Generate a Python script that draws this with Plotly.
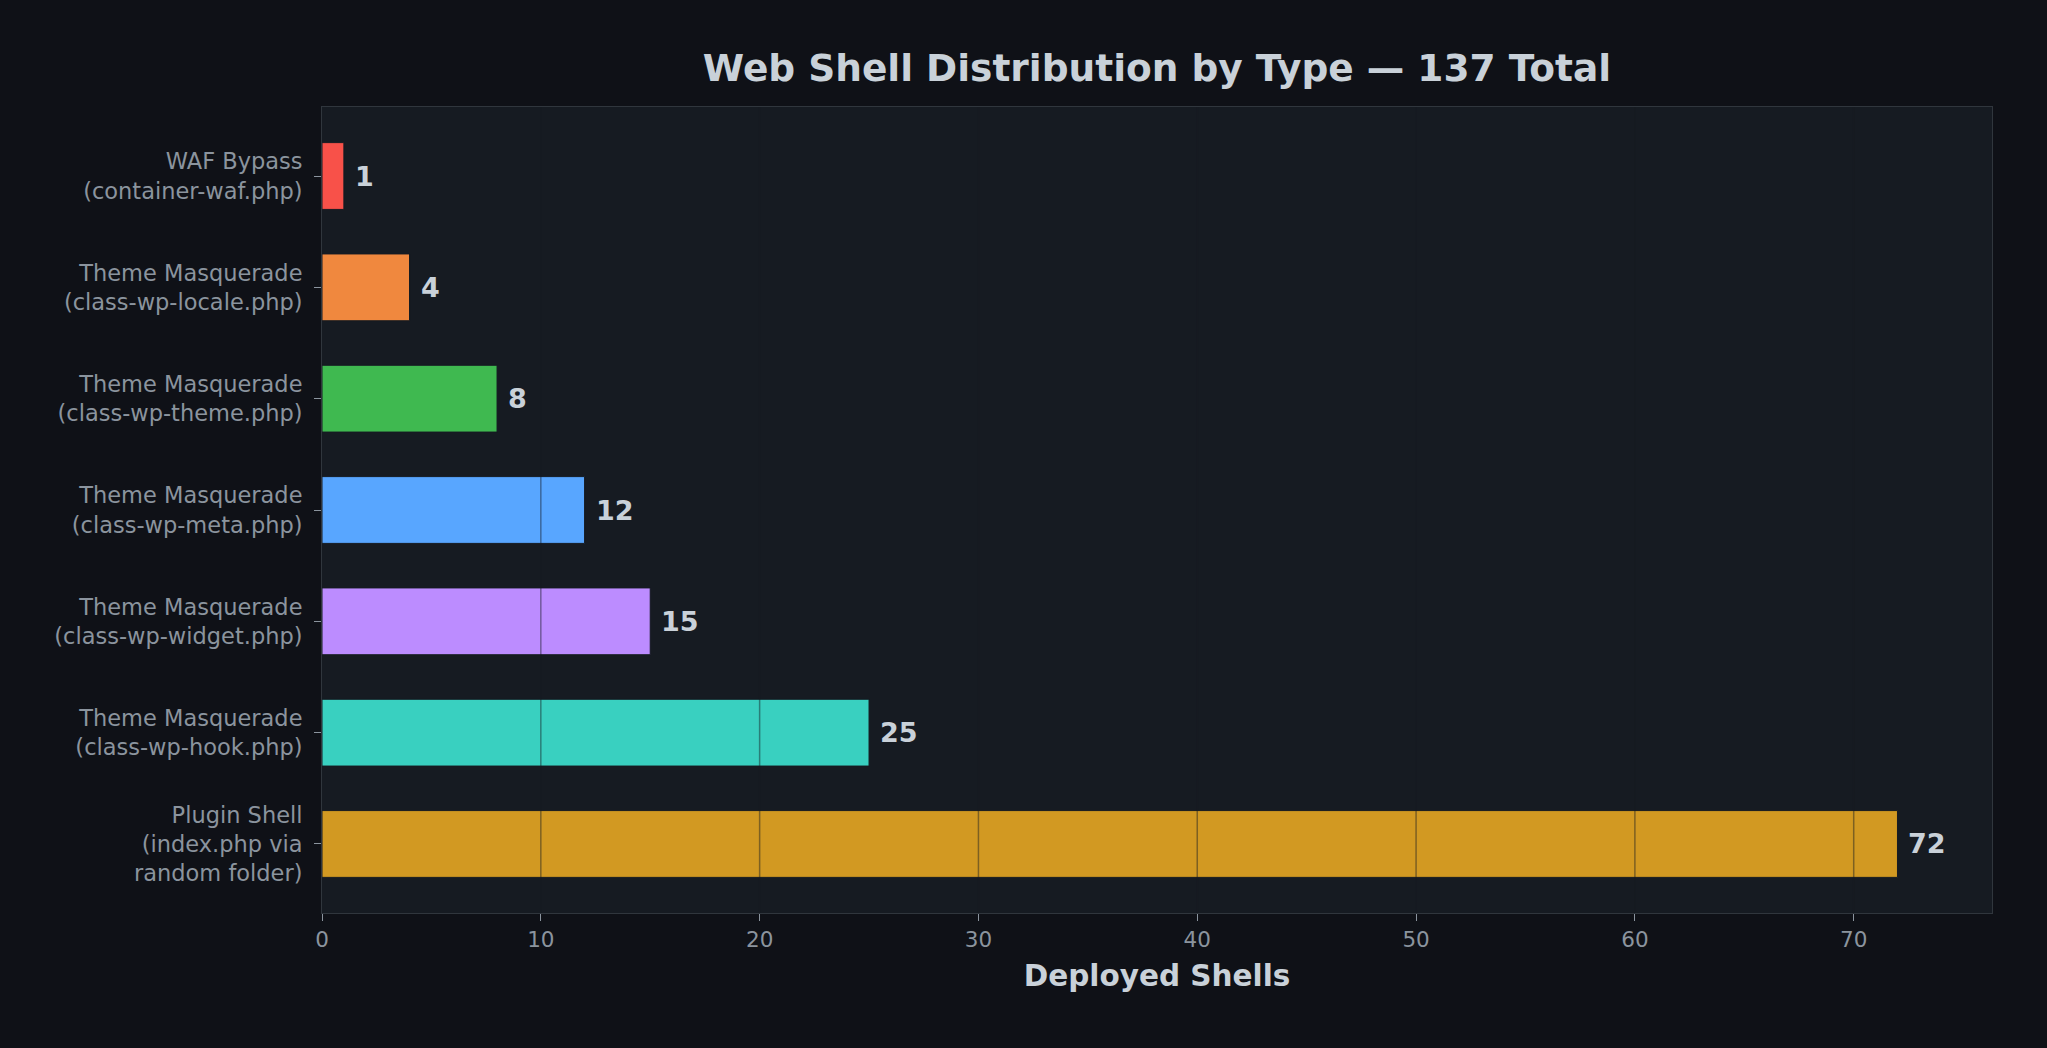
import plotly.graph_objects as go

# shell types, top to bottom as drawn
shell_types = [
    "WAF Bypass<br>(container-waf.php)",
    "Theme Masquerade<br>(class-wp-locale.php)",
    "Theme Masquerade<br>(class-wp-theme.php)",
    "Theme Masquerade<br>(class-wp-meta.php)",
    "Theme Masquerade<br>(class-wp-widget.php)",
    "Theme Masquerade<br>(class-wp-hook.php)",
    "Plugin Shell<br>(index.php via<br>random folder)",
]
shell_counts = [1, 4, 8, 12, 15, 25, 72]
bar_colors = ["#f85149", "#f0883e", "#3fb950", "#58a6ff", "#bc8cff", "#39d0c0", "#d29922"]
x_ticks = [0, 10, 20, 30, 40, 50, 60, 70]

total = sum(shell_counts)
font = "DejaVu Sans"

fig = go.Figure()
fig.add_trace(go.Bar(
    x=shell_counts,
    y=shell_types,
    orientation="h",
    width=0.6,
    marker=dict(color=bar_colors, line=dict(color="#161b22", width=1)),
    hoverinfo="x+y",
))

# value labels just past the end of each bar
for name, n in zip(shell_types, shell_counts):
    fig.add_annotation(
        x=n, y=name, text=str(n), showarrow=False,
        xanchor="left", yanchor="middle", xshift=9,
        font=dict(family=font, size=27, color="#c9d1d9", weight="bold"),
    )

# grid lines sit on top of the bars in the original (and vanish on the background)
for t in x_ticks[1:]:
    fig.add_shape(
        type="line", x0=t, x1=t, xref="x", y0=0, y1=1, yref="paper",
        line=dict(color="rgba(22,27,34,0.45)", width=1.5), layer="above",
    )

fig.update_layout(
    width=2047, height=1048,
    paper_bgcolor="#0f1117",
    plot_bgcolor="#161b22",
    margin=dict(l=322, r=55, t=107, b=135),
    showlegend=False,
    title=dict(
        text=f"Web Shell Distribution by Type \u2014 {total} Total",
        x=0.5, xref="paper", xanchor="center",
        y=1 - 68 / 1048, yref="container", yanchor="middle",
        font=dict(family=font, size=37.5, color="#c9d1d9", weight="bold"),
    ),
    font=dict(family=font, color="#8b949e"),
)

fig.update_xaxes(
    range=[0, max(shell_counts) * 1.06],
    tickvals=x_ticks,
    showgrid=False, zeroline=False,
    showline=True, linecolor="#30363d", linewidth=1, mirror=True,
    ticks="outside", ticklen=7, tickcolor="#8b949e", tickwidth=1,
    tickfont=dict(family=font, size=21.5, color="#8b949e"),
    title=dict(
        text="Deployed Shells", standoff=14,
        font=dict(family=font, size=29.5, color="#c9d1d9", weight="bold"),
    ),
)

fig.update_yaxes(
    type="category",
    categoryorder="array", categoryarray=shell_types,
    range=[len(shell_types) - 1 + 0.62, -0.62],
    showgrid=False, zeroline=False,
    showline=True, linecolor="#30363d", linewidth=1, mirror=True,
    ticks="outside", ticklen=7, tickcolor="#8b949e", tickwidth=1,
    ticklabelstandoff=7,
    tickfont=dict(family=font, size=22.5, color="#8b949e"),
)

fig.write_html(
    "out.html",
    config={"displayModeBar": False},
    post_script="document.body.style.margin='0';",
)
